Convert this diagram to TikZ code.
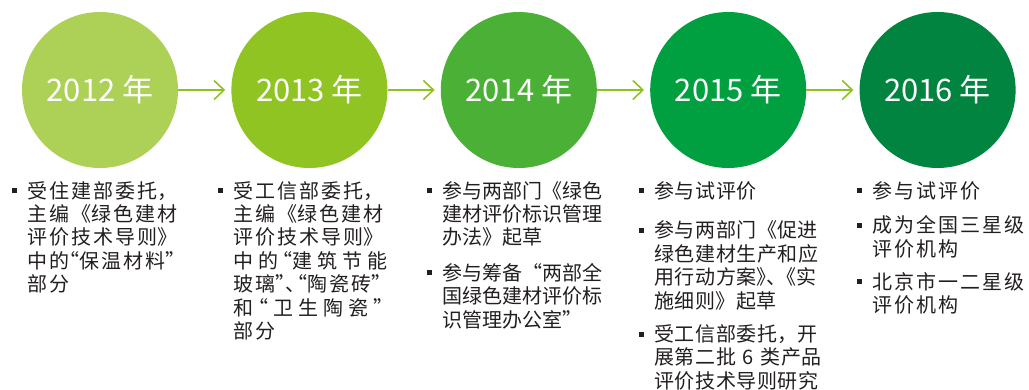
\documentclass[tikz,border=0pt]{standalone}
\usepackage{fontspec}
\setmainfont{Noto Sans CJK SC}
\usetikzlibrary{arrows.meta}

\definecolor{gA}{HTML}{ACD156}
\definecolor{gB}{HTML}{8FC422}
\definecolor{gC}{HTML}{4BB136}
\definecolor{gD}{HTML}{00A041}
\definecolor{gE}{HTML}{00843F}
\definecolor{arrowgreen}{HTML}{8DC21F}
\definecolor{ink}{HTML}{231F20}

\XeTeXlinebreaklocale "zh"
\XeTeXlinebreakskip=0pt
\newcommand{\itm}{\leavevmode\llap{\rule[5pt]{5pt}{5pt}\hspace{10pt}}}
\newcommand{\hw}[1]{{\addfontfeature{RawFeature=+halt}#1}}

\begin{document}
\begin{tikzpicture}[x=1pt, y=-1pt,
    year/.style={circle, minimum size=156pt, inner sep=0pt, text=white,
        font=\fontsize{31pt}{31pt}\selectfont},
    note/.style={anchor=base west, inner sep=0pt, text width=200pt, align=left,
        text=ink, font=\fontsize{20pt}{23.4pt}\selectfont},
    arr/.style={arrowgreen, line width=1.6pt, shorten >=6pt,
        -{Straight Barb[length=10pt, width=19pt, line width=1.6pt]}}]
    \useasboundingbox (0,0) rectangle (1029,389);
    % circles
    \node[year, fill=gA] (y2012) at (100,90) {2012 年};
    \node[year, fill=gB] (y2013) at (309.4,90) {2013 年};
    \node[year, fill=gC] (y2014) at (518.8,90) {2014 年};
    \node[year, fill=gD] (y2015) at (728.2,90) {2015 年};
    \node[year, fill=gE] (y2016) at (937.6,90) {2016 年};
    % arrows
    \draw[arr] (y2012) -- (y2013);
    \draw[arr] (y2013) -- (y2014);
    \draw[arr] (y2014) -- (y2015);
    \draw[arr] (y2015) -- (y2016);
    % notes
    \node[note] (n2012) at (27,198) {\XeTeXlinebreakskip=2pt
        \itm 受住建部委托，\\
        主编《绿色建材\\
        评价技术导则》\\
        中的\hw{“}保温材料\hw{”}\\
        部分};
    \node[note] (n2013) at (233,198) {\XeTeXlinebreakskip=2pt
        \itm 受工信部委托，\\
        主编《绿色建材\\
        评价技术导则》\\
        \makebox[154pt][l]{中\hfill 的\hfill \hw{“}建\hfill 筑\hfill 节\hfill 能}\\
        玻璃\hw{”、“}陶瓷砖\hw{”}\\
        \makebox[150pt][l]{和\hfill \hw{“}\hfill 卫\hfill 生\hfill 陶\hfill 瓷\hfill \hw{”}}\\
        部分};
    \node[note] (n2014) at (442,198) {%
        \itm 参与两部门《绿色\\
        建材评价标识管理\\
        办法》起草\\[12pt]
        \itm 参与筹备“两部全\\
        国绿色建材评价标\\
        识管理办公室”};
    \node[note] (n2015) at (654,198) {\XeTeXlinebreakskip=0.6pt
        \itm 参与试评价\\[16.5pt]
        \itm 参与两部门《促进\\
        绿色建材生产和应\\
        用行动方案\hw{》、}《实\\
        施细则》起草\\[10pt]
        \itm 受工信部委托，开\\
        展第二批 6 类产品\\
        评价技术导则研究};
    \node[note] (n2016) at (872,198) {\XeTeXlinebreakskip=2pt
        \itm 参与试评价\\[11.5pt]
        \itm 成为全国三星级\\
        评价机构\\[9.5pt]
        \itm 北京市一二星级\\
        评价机构};
\end{tikzpicture}
\end{document}
